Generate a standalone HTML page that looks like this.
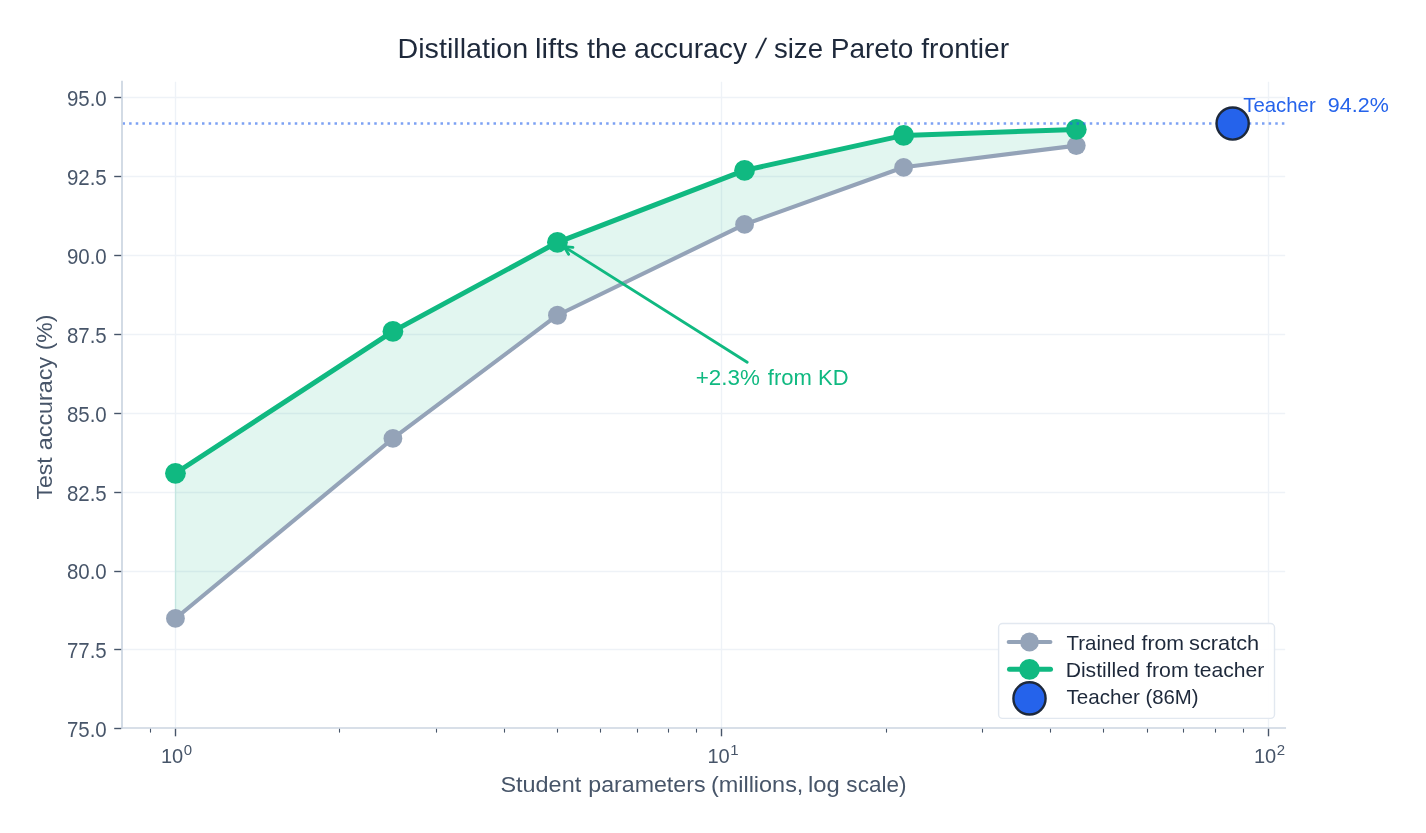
<!DOCTYPE html>
<html lang="en"><head><meta charset="utf-8"><title>Distillation lifts the accuracy / size Pareto frontier</title>
<style>
html,body{margin:0;padding:0;background:#fff;}
body{width:1426px;height:833px;overflow:hidden;}
svg{display:block;}
text{font-family:"Liberation Sans",Arial,Helvetica,sans-serif;}
</style></head><body>
<svg width="1426" height="833" viewBox="0 0 1426 833">
<rect width="1426" height="833" fill="#ffffff"/>

<g stroke="#eef2f7" stroke-width="1.4" fill="none">
<line x1="122.0" x2="1285.2" y1="649.5" y2="649.5"/>
<line x1="122.0" x2="1285.2" y1="571.5" y2="571.5"/>
<line x1="122.0" x2="1285.2" y1="492.5" y2="492.5"/>
<line x1="122.0" x2="1285.2" y1="413.5" y2="413.5"/>
<line x1="122.0" x2="1285.2" y1="334.5" y2="334.5"/>
<line x1="122.0" x2="1285.2" y1="255.5" y2="255.5"/>
<line x1="122.0" x2="1285.2" y1="176.5" y2="176.5"/>
<line x1="122.0" x2="1285.2" y1="97.5" y2="97.5"/>
<line x1="175.5" x2="175.5" y1="81.71" y2="728.0"/>
<line x1="721.5" x2="721.5" y1="81.71" y2="728.0"/>
<line x1="1268.5" x2="1268.5" y1="81.71" y2="728.0"/>
</g>
<polygon points="175.45,473.28 392.92,331.42 557.44,242.32 744.57,170.36 903.63,135.38 1076.28,129.42 1076.28,145.60 903.63,167.30 744.57,224.43 557.44,315.23 392.92,438.46 175.45,618.46" fill="#10b981" fill-opacity="0.12" stroke="#10b981" stroke-opacity="0.12" stroke-width="1.4"/>
<polyline points="175.45,618.46 392.92,438.46 557.44,315.23 744.57,224.43 903.63,167.30 1076.28,145.60" fill="none" stroke="#94a3b8" stroke-width="4.1" stroke-linejoin="round" stroke-linecap="round"/>
<circle cx="175.45" cy="618.46" r="9.4" fill="#94a3b8"/>
<circle cx="392.92" cy="438.46" r="9.4" fill="#94a3b8"/>
<circle cx="557.44" cy="315.23" r="9.4" fill="#94a3b8"/>
<circle cx="744.57" cy="224.43" r="9.4" fill="#94a3b8"/>
<circle cx="903.63" cy="167.30" r="9.4" fill="#94a3b8"/>
<circle cx="1076.28" cy="145.60" r="9.4" fill="#94a3b8"/>
<polyline points="175.45,473.28 392.92,331.42 557.44,242.32 744.57,170.36 903.63,135.38 1076.28,129.42" fill="none" stroke="#10b981" stroke-width="5" stroke-linejoin="round"/>
<circle cx="175.45" cy="473.28" r="10.4" fill="#10b981"/>
<circle cx="392.92" cy="331.42" r="10.4" fill="#10b981"/>
<circle cx="557.44" cy="242.32" r="10.4" fill="#10b981"/>
<circle cx="744.57" cy="170.36" r="10.4" fill="#10b981"/>
<circle cx="903.63" cy="135.38" r="10.4" fill="#10b981"/>
<circle cx="1076.28" cy="129.42" r="10.4" fill="#10b981"/>
<line x1="122.5" x2="1285.2" y1="123.45" y2="123.45" stroke="#2563eb" stroke-opacity="0.6" stroke-width="2.5" stroke-dasharray="2.5 4.125"/>
<circle cx="1232.65" cy="123.55" r="16.1" fill="#2563eb" stroke="#1e293b" stroke-width="2.4"/>
<text y="112" font-size="21" fill="#2563eb"><tspan x="1243.24" textLength="72.47" lengthAdjust="spacingAndGlyphs">Teacher</tspan> <tspan x="1327.88" textLength="60.88" lengthAdjust="spacingAndGlyphs">94.2%</tspan></text>
<g stroke="#10b981" stroke-width="2.8" fill="none" stroke-linecap="round" stroke-linejoin="miter"><line x1="747.2" y1="362.2" x2="564.0" y2="246.6"/>
<line x1="564.0" y1="246.6" x2="568.60" y2="254.33"/>
<line x1="564.0" y1="246.6" x2="572.96" y2="247.42"/>
</g>
<text y="385" font-size="21.2" fill="#10b981"><tspan x="695.78" textLength="64.12" lengthAdjust="spacingAndGlyphs">+2.3%</tspan> <tspan x="767.77" textLength="44.06" lengthAdjust="spacingAndGlyphs">from</tspan> <tspan x="818.09" textLength="30.54" lengthAdjust="spacingAndGlyphs">KD</tspan></text>
<g stroke="#cbd5e1" stroke-width="1.7" fill="none" stroke-linecap="square"><line x1="122.0" x2="122.0" y1="81.71" y2="728.0"/><line x1="122.0" x2="1285.2" y1="728.0" y2="728.0"/></g>
<g stroke="#475569" stroke-width="1.4" fill="none">
<line x1="114.2" x2="121.2" y1="728.5" y2="728.5"/>
<line x1="114.2" x2="121.2" y1="649.5" y2="649.5"/>
<line x1="114.2" x2="121.2" y1="571.5" y2="571.5"/>
<line x1="114.2" x2="121.2" y1="492.5" y2="492.5"/>
<line x1="114.2" x2="121.2" y1="413.5" y2="413.5"/>
<line x1="114.2" x2="121.2" y1="334.5" y2="334.5"/>
<line x1="114.2" x2="121.2" y1="255.5" y2="255.5"/>
<line x1="114.2" x2="121.2" y1="176.5" y2="176.5"/>
<line x1="114.2" x2="121.2" y1="97.5" y2="97.5"/>
<line x1="175.5" x2="175.5" y1="728.8" y2="736.3"/>
<line x1="721.5" x2="721.5" y1="728.8" y2="736.3"/>
<line x1="1268.5" x2="1268.5" y1="728.8" y2="736.3"/>
</g>
<g stroke="#475569" stroke-width="1.1" fill="none">
<line x1="150.5" x2="150.5" y1="728.8" y2="732.6"/>
<line x1="339.5" x2="339.5" y1="728.8" y2="732.6"/>
<line x1="436.5" x2="436.5" y1="728.8" y2="732.6"/>
<line x1="504.5" x2="504.5" y1="728.8" y2="732.6"/>
<line x1="557.5" x2="557.5" y1="728.8" y2="732.6"/>
<line x1="600.5" x2="600.5" y1="728.8" y2="732.6"/>
<line x1="637.5" x2="637.5" y1="728.8" y2="732.6"/>
<line x1="668.5" x2="668.5" y1="728.8" y2="732.6"/>
<line x1="696.5" x2="696.5" y1="728.8" y2="732.6"/>
<line x1="886.5" x2="886.5" y1="728.8" y2="732.6"/>
<line x1="982.5" x2="982.5" y1="728.8" y2="732.6"/>
<line x1="1050.5" x2="1050.5" y1="728.8" y2="732.6"/>
<line x1="1103.5" x2="1103.5" y1="728.8" y2="732.6"/>
<line x1="1147.5" x2="1147.5" y1="728.8" y2="732.6"/>
<line x1="1183.5" x2="1183.5" y1="728.8" y2="732.6"/>
<line x1="1215.5" x2="1215.5" y1="728.8" y2="732.6"/>
<line x1="1243.5" x2="1243.5" y1="728.8" y2="732.6"/>
</g>
<g font-size="21.5" fill="#475569">
<text x="66.9" y="737" textLength="39.8" lengthAdjust="spacingAndGlyphs">75.0</text>
<text x="66.9" y="658" textLength="39.8" lengthAdjust="spacingAndGlyphs">77.5</text>
<text x="66.9" y="579" textLength="39.8" lengthAdjust="spacingAndGlyphs">80.0</text>
<text x="66.9" y="501" textLength="39.8" lengthAdjust="spacingAndGlyphs">82.5</text>
<text x="66.9" y="422" textLength="39.8" lengthAdjust="spacingAndGlyphs">85.0</text>
<text x="66.9" y="343" textLength="39.8" lengthAdjust="spacingAndGlyphs">87.5</text>
<text x="66.9" y="264" textLength="39.8" lengthAdjust="spacingAndGlyphs">90.0</text>
<text x="66.9" y="185" textLength="39.8" lengthAdjust="spacingAndGlyphs">92.5</text>
<text x="66.9" y="106" textLength="39.8" lengthAdjust="spacingAndGlyphs">95.0</text>
</g>
<g fill="#475569">
<text x="160.95" y="763" font-size="21" textLength="22.3" lengthAdjust="spacingAndGlyphs">10</text><text x="183.75" y="755" font-size="15">0</text>
<text x="707.45" y="763" font-size="21" textLength="22.3" lengthAdjust="spacingAndGlyphs">10</text><text x="730.25" y="755" font-size="15">1</text>
<text x="1253.95" y="763" font-size="21" textLength="22.3" lengthAdjust="spacingAndGlyphs">10</text><text x="1276.75" y="755" font-size="15">2</text>
</g>
<text y="792" font-size="22" fill="#475569"><tspan x="500.45" textLength="80.73" lengthAdjust="spacingAndGlyphs">Student</tspan> <tspan x="588.29" textLength="117.22" lengthAdjust="spacingAndGlyphs">parameters</tspan> <tspan x="710.93" textLength="92.47" lengthAdjust="spacingAndGlyphs">(millions,</tspan> <tspan x="807.99" textLength="31.74" lengthAdjust="spacingAndGlyphs">log</tspan> <tspan x="846.38" textLength="60.03" lengthAdjust="spacingAndGlyphs">scale)</tspan></text>
<text y="0" font-size="22" fill="#475569" transform="translate(51.5,0) rotate(-90)"><tspan x="-499.52" textLength="42.02" lengthAdjust="spacingAndGlyphs">Test</tspan> <tspan x="-450.19" textLength="93.33" lengthAdjust="spacingAndGlyphs">accuracy</tspan> <tspan x="-350.33" textLength="35.67" lengthAdjust="spacingAndGlyphs">(%)</tspan></text>
<text y="58" font-size="28" fill="#1e293b"><tspan x="397.53" textLength="130.70" lengthAdjust="spacingAndGlyphs">Distillation</tspan> <tspan x="535.13" textLength="43.79" lengthAdjust="spacingAndGlyphs">lifts</tspan> <tspan x="587.07" textLength="39.85" lengthAdjust="spacingAndGlyphs">the</tspan> <tspan x="633.90" textLength="113.25" lengthAdjust="spacingAndGlyphs">accuracy</tspan></text>
<text transform="translate(755.1,58) skewX(-12.5)" x="0" y="0" font-size="28" fill="#1e293b">/</text>
<text y="58" font-size="28" fill="#1e293b"><tspan x="773.94" textLength="49.05" lengthAdjust="spacingAndGlyphs">size</tspan> <tspan x="830.69" textLength="82.68" lengthAdjust="spacingAndGlyphs">Pareto</tspan> <tspan x="921.28" textLength="87.84" lengthAdjust="spacingAndGlyphs">frontier</tspan></text>
<rect x="998.6" y="623.5" width="275.9" height="94.9" rx="4" ry="4" fill="#ffffff" fill-opacity="0.9" stroke="#e2e8f0" stroke-width="1.4"/>
<line x1="1008.7" x2="1050.4" y1="642" y2="642" stroke="#94a3b8" stroke-width="4.1" stroke-linecap="round"/><circle cx="1029.5" cy="642" r="9.4" fill="#94a3b8"/>
<line x1="1009.5" x2="1050.5" y1="669.3" y2="669.3" stroke="#10b981" stroke-width="5" stroke-linecap="round"/><circle cx="1029.5" cy="669.3" r="10.4" fill="#10b981"/>
<circle cx="1029.5" cy="698.4" r="16.1" fill="#2563eb" stroke="#1e293b" stroke-width="2.4"/>
<g><text y="650" font-size="20.4" fill="#1e293b"><tspan x="1066.44" textLength="68.66" lengthAdjust="spacingAndGlyphs">Trained</tspan> <tspan x="1141.48" textLength="42.60" lengthAdjust="spacingAndGlyphs">from</tspan> <tspan x="1189.00" textLength="70.23" lengthAdjust="spacingAndGlyphs">scratch</tspan></text><text y="677" font-size="20.4" fill="#1e293b"><tspan x="1065.65" textLength="74.09" lengthAdjust="spacingAndGlyphs">Distilled</tspan> <tspan x="1146.08" textLength="42.60" lengthAdjust="spacingAndGlyphs">from</tspan> <tspan x="1193.98" textLength="70.34" lengthAdjust="spacingAndGlyphs">teacher</tspan></text><text y="704" font-size="20.4" fill="#1e293b"><tspan x="1066.44" textLength="73.38" lengthAdjust="spacingAndGlyphs">Teacher</tspan> <tspan x="1145.43" textLength="53.17" lengthAdjust="spacingAndGlyphs">(86M)</tspan></text></g>
</svg></body></html>
